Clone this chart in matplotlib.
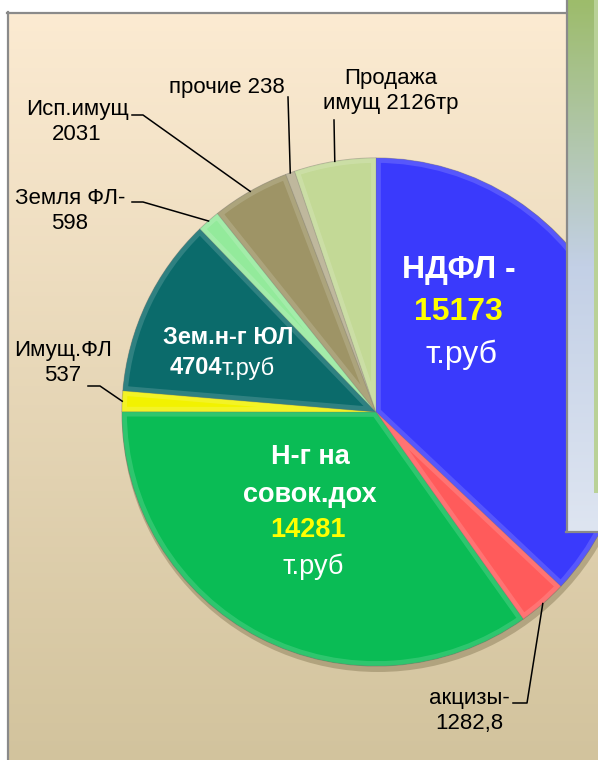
import numpy as np
import matplotlib.pyplot as plt
from matplotlib.patches import Wedge, Circle, Rectangle
from matplotlib.colors import to_rgb

plt.rcParams['font.family'] = ['Liberation Sans Narrow', 'Liberation Sans', 'DejaVu Sans']

# данные (тыс. руб)
labels = ['НДФЛ', 'акцизы', 'Н-г на совок.дох', 'Имущ.ФЛ', 'Зем.н-г ЮЛ',
          'Земля ФЛ', 'Исп.имущ', 'прочие', 'Продажа имущ']
values = [15173, 1282.8, 14281, 537, 4704, 598, 2031, 238, 2126]
colors = ['#3A3AFC', '#FF5B5B', '#0ABC55', '#F2F200', '#0B6B6B',
          '#93EA9B', '#9E9466', '#B4AC8C', '#C3D996']

# подписи снаружи круга
out_idx = [1, 3, 5, 6, 7, 8]
out_text = ['акцизы-\n1282,8', 'Имущ.ФЛ\n537', 'Земля ФЛ-\n598',
            'Исп.имущ\n2031', 'прочие 238', 'Продажа\nимущ 2126тр']

W, H = 598, 760
cx, cy, R = 376, H - 412, 254

fig = plt.figure(figsize=(W / 100, H / 100), dpi=100)
ax = fig.add_axes([0, 0, 1, 1])


def mix(c, other, t):
    a = np.array(to_rgb(c))
    b = np.array(to_rgb(other))
    return tuple(a * (1 - t) + b * t)


# фон
top = np.array(to_rgb('#FCEBD2'))
bot = np.array(to_rgb('#D2C39D'))
t = np.linspace(0, 1, 200)[:, None]
grad = (top * (1 - t) + bot * t)[:, None, :]
ax.imshow(grad, extent=(7, W, 0, H - 12), aspect='auto', zorder=0)
ax.plot([7.5, 7.5], [0, H - 12], color='#8A8A8A', lw=1.6, zorder=0.5)
ax.plot([7, 566], [H - 12.5, H - 12.5], color='#8A8A8A', lw=1.6, zorder=0.5)

# тень
ax.add_patch(Circle((cx + 2, cy - 4), R + 2, color='#6B5E3A', alpha=0.35, lw=0, zorder=0.8))

wedges, _ = ax.pie(values, colors=colors, startangle=90, counterclock=False,
                   center=(cx, cy), radius=R,
                   wedgeprops=dict(linewidth=0.8, edgecolor='#55555560'))
for w, c in zip(wedges, colors):
    band = Wedge(w.center, w.r, w.theta1, w.theta2, fill=False,
                 edgecolor=mix(c, 'white', 0.25), lw=7, alpha=0.6, zorder=1.5)
    ax.add_patch(band)
    band.set_clip_path(w)

ax.set_xlim(0, W)
ax.set_ylim(0, H)
ax.set_aspect('auto')
ax.axis('off')

# выноски
label_pos = [(469, 711), (63, 363), (70, 211), (77, 122), (227, 88), (391, 91)]
elbows = [[(513, 703), (527, 703)], [(88, 386), (100, 386)],
          [(132, 202), (143, 202)], [(132, 115), (143, 115)],
          [(288, 97)], [(334, 120)]]
for i, txt, (lx, ly), el in zip(out_idx, out_text, label_pos, elbows):
    w = wedges[i]
    mid = np.deg2rad((w.theta1 + w.theta2) / 2)
    ex, ey = cx + R * np.cos(mid), cy + R * np.sin(mid)
    xs = [p[0] for p in el] + [ex]
    ys = [H - p[1] for p in el] + [ey]
    ax.plot(xs, ys, color='black', lw=1.1, zorder=4)
    ax.text(lx, H - ly, txt, ha='center', va='center', fontsize=16,
            color='black', linespacing=1.25, zorder=4)

# подписи внутри
ax.text(459, H - 270, 'НДФЛ -', ha='center', va='center', fontsize=23, color='white', weight='bold', zorder=4)
ax.text(458, H - 312, '15173', ha='center', va='center', fontsize=23, color='#FFFF00', weight='bold', zorder=4)
ax.text(462, H - 355, 'т.руб', ha='center', va='center', fontsize=23, color='white', zorder=4)

ax.text(310, H - 457, 'Н-г на', ha='center', va='center', fontsize=19.5, color='white', weight='bold', zorder=4)
ax.text(310, H - 495, 'совок.дох', ha='center', va='center', fontsize=19.5, color='white', weight='bold', zorder=4)
ax.text(308, H - 530, '14281', ha='center', va='center', fontsize=19.5, color='#FFFF00', weight='bold', zorder=4)
ax.text(313, H - 567, 'т.руб', ha='center', va='center', fontsize=19.5, color='white', zorder=4)

ax.text(228, H - 338, 'Зем.н-г ЮЛ', ha='center', va='center', fontsize=17, color='white', weight='bold', zorder=4)
ax.text(222, H - 368, '4704', ha='right', va='center', fontsize=17, color='white', weight='bold', zorder=4)
ax.text(222, H - 368, 'т.руб', ha='left', va='center', fontsize=17, color='white', zorder=4)

# зелёная панель справа
g1 = np.array(to_rgb('#9DBC6B'))
g2 = np.array(to_rgb('#C3D0E6'))
g3 = np.array(to_rgb('#DEE5F1'))
s = np.linspace(0, 1, 200)[:, None]
panel = np.where(s < 0.5, g1 * (1 - s * 2) + g2 * (s * 2), g2 * (2 - s * 2) + g3 * (s * 2 - 1))
ax.imshow(panel[:, None, :], extent=(566, W, H - 532, H), aspect='auto', zorder=5)
ax.add_patch(Rectangle((594, H - 493), 4, 493, color='#B9D197', lw=0, zorder=6))
ax.plot([566.5, 566.5], [H - 532, H], color='#8A8A8A', lw=1.6, zorder=7)
ax.plot([566, W], [H - 532, H - 532], color='#8A8A8A', lw=1.6, zorder=7)
ax.set_xlim(0, W)
ax.set_ylim(0, H)

fig.savefig('out.png', dpi=100)
